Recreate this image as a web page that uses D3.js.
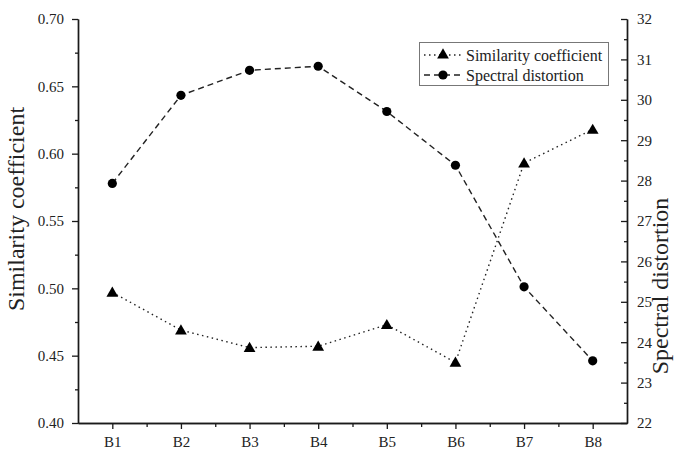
<!DOCTYPE html>
<html><head><meta charset="utf-8">
<script src="https://cdn.jsdelivr.net/npm/d3@7"></script>
<style>body{margin:0;background:#fff}svg{display:block}</style>
</head><body><svg id="c" width="678" height="450" font-family="Liberation Serif, serif"></svg>
<script>
const categories = ["B1","B2","B3","B4","B5","B6","B7","B8"];
const similarity = [0.497,0.469,0.456,0.457,0.473,0.445,0.593,0.618];
const distortion = [27.93,30.11,30.73,30.83,29.71,28.38,25.37,23.54];
const leftTicks = [0.40,0.45,0.50,0.55,0.60,0.65,0.70];
const rightTicks = [22,23,24,25,26,27,28,29,30,31,32];
const seriesNames = ["Similarity coefficient","Spectral distortion"];

const FONT = "Liberation Serif, serif";
const svg = d3.select("#c");
const L = 78, R = 627, T = 19, B = 423;
const x = d3.scaleLinear().domain([0.5, categories.length + 0.5]).range([L, R]);
const yL = d3.scaleLinear().domain([0.40, 0.70]).range([B, T]);
const yR = d3.scaleLinear().domain([22, 32]).range([B, T]);

function styleAxis(g){
  g.attr("font-family", FONT).attr("font-size", 15);
  g.selectAll("path.domain").attr("stroke","#1a1a1a").attr("stroke-width",1.4);
  g.selectAll(".tick line").attr("stroke","#1a1a1a").attr("stroke-width",1.3);
  g.selectAll(".tick text").attr("font-family", FONT).attr("font-size", 15).attr("fill","#222");
}

// left minor ticks
const lMinor = d3.range(0.425, 0.70, 0.05);
svg.append("g").attr("transform",`translate(${L},0)`)
  .call(d3.axisLeft(yL).tickValues(lMinor).tickSize(3).tickFormat("").tickSizeOuter(0))
  .call(styleAxis);
svg.append("g").attr("transform",`translate(${L},0)`)
  .call(d3.axisLeft(yL).tickValues(leftTicks).tickSize(6).tickPadding(8).tickFormat(d3.format(".2f")).tickSizeOuter(0))
  .call(styleAxis);

// right axis, ticks inward
const rMinor = d3.range(22.5, 32, 1);
svg.append("g").attr("transform",`translate(${R},0)`)
  .call(d3.axisRight(yR).tickValues(rMinor).tickSizeInner(-3).tickFormat("").tickSizeOuter(0))
  .call(styleAxis);
svg.append("g").attr("transform",`translate(${R},0)`)
  .call(d3.axisRight(yR).tickValues(rightTicks).tickSizeInner(-6).tickPadding(10).tickSizeOuter(0))
  .call(styleAxis);

// bottom axis
const bMinor = d3.range(1.5, categories.length, 1);
svg.append("g").attr("transform",`translate(0,${B})`)
  .call(d3.axisBottom(x).tickValues(bMinor).tickSize(4).tickFormat("").tickSizeOuter(0))
  .call(styleAxis);
svg.append("g").attr("transform",`translate(0,${B})`)
  .call(d3.axisBottom(x).tickValues(d3.range(1, categories.length+1)).tickSize(6).tickPadding(7)
    .tickFormat(d => categories[d-1]).tickSizeOuter(0))
  .call(styleAxis);

// axis titles
svg.append("text").attr("transform","translate(24,209) rotate(-90)")
  .attr("text-anchor","middle").attr("font-family",FONT).attr("font-size",24).attr("fill","#222")
  .text("Similarity coefficient");
svg.append("text").attr("transform","translate(668,286) rotate(-90)")
  .attr("text-anchor","middle").attr("font-family",FONT).attr("font-size",24).attr("fill","#222")
  .text("Spectral distortion");

// lines
const lineS = d3.line().x((d,i)=>x(i+1)).y(d=>yL(d));
const lineD = d3.line().x((d,i)=>x(i+1)).y(d=>yR(d));
svg.append("path").datum(similarity).attr("d",lineS).attr("fill","none")
  .attr("stroke","#222").attr("stroke-width",1.4).attr("stroke-dasharray","1.5,3.5");
svg.append("path").datum(distortion).attr("d",lineD).attr("fill","none")
  .attr("stroke","#222").attr("stroke-width",1.4).attr("stroke-dasharray","6,4");

const tri = d3.symbol().type(d3.symbolTriangle).size(60);
svg.append("g").selectAll("path").data(similarity).join("path")
  .attr("d",tri).attr("transform",(d,i)=>`translate(${x(i+1)},${yL(d)+1})`).attr("fill","#000");
svg.append("g").selectAll("circle").data(distortion).join("circle")
  .attr("cx",(d,i)=>x(i+1)).attr("cy",d=>yR(d)).attr("r",4.6).attr("fill","#000");

// legend
const lg = svg.append("g");
lg.append("rect").attr("x",419.5).attr("y",42.5).attr("width",189).attr("height",43)
  .attr("fill","#fff").attr("stroke","#777").attr("stroke-width",1);
const rows = [55, 75];
lg.append("line").attr("x1",424).attr("x2",462).attr("y1",rows[0]).attr("y2",rows[0])
  .attr("stroke","#222").attr("stroke-width",1.4).attr("stroke-dasharray","1.5,3.5");
lg.append("path").attr("d",tri).attr("transform",`translate(443,${rows[0]})`).attr("fill","#000");
lg.append("line").attr("x1",424).attr("x2",462).attr("y1",rows[1]).attr("y2",rows[1])
  .attr("stroke","#222").attr("stroke-width",1.4).attr("stroke-dasharray","6,4");
lg.append("circle").attr("cx",443).attr("cy",rows[1]).attr("r",4.6).attr("fill","#000");
seriesNames.forEach((n,i)=>{
  lg.append("text").attr("x",466).attr("y",rows[i]).attr("dy","0.35em")
    .attr("font-family",FONT).attr("font-size",16).attr("fill","#222").text(n);
});
</script></body></html>
